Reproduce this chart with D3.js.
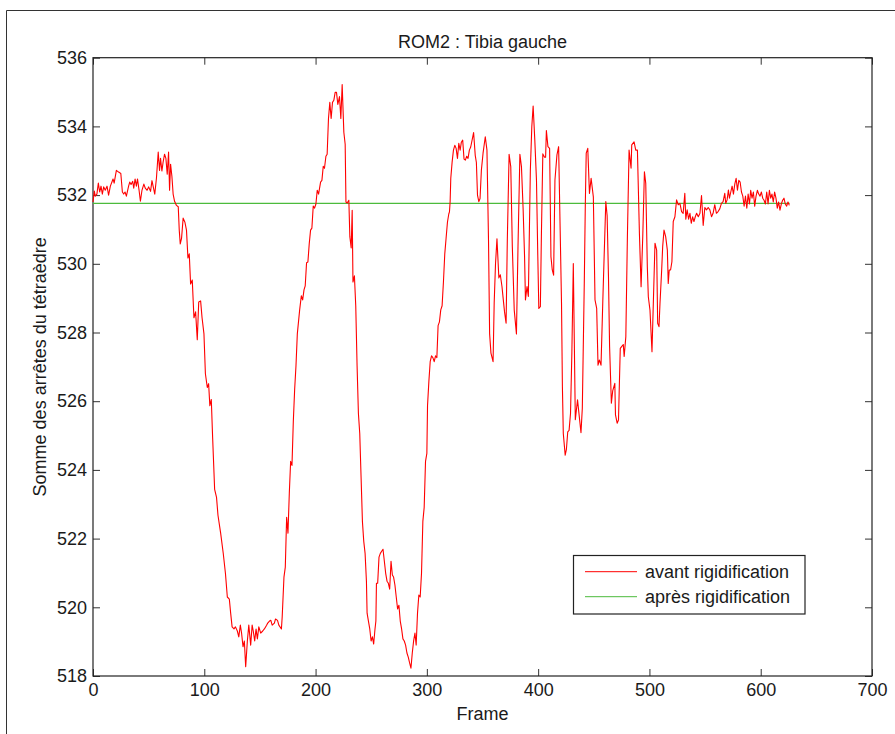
<!DOCTYPE html>
<html>
<head>
<meta charset="utf-8">
<script src="https://cdn.jsdelivr.net/npm/d3@7/dist/d3.min.js"></script>
<style>
  html, body { margin: 0; padding: 0; background: #fff; }
  svg { display: block; }
  text { font-family: "Liberation Sans", Arial, Helvetica, sans-serif; fill: #1a1a1a; }
</style>
</head>
<body>
<svg id="chart" width="895" height="734"></svg>
<script>
const titleText = "ROM2 : Tibia gauche";
const xLabel = "Frame";
const yLabel = "Somme des arrêtes du tétraèdre";
const seriesNames = ["avant rigidification", "après rigidification"];
const xTicks = [0, 100, 200, 300, 400, 500, 600, 700];
const yTicks = [518, 520, 522, 524, 526, 528, 530, 532, 534, 536];

const frames = [
0,1.2,2,3.5,4.8,6,7.2,8.4,9.6,11,12.6,14,15.6,17,18,19,21,23,25,26.4,27.6,28.8,30,32,33,34.2,35.7,36.6,37.8,39,40,41.4,42.6,44,45.7,47,48.6,50,51.7,53,54,55.5,57,58.6,59.8,60.7,61.9,63,64.3,65.5,66.7,67.9,68.8,69.7,70.9,72,73.3,75,76.6,77.5,78.4,79.6,81,82.6,84,85.3,86.5,87.7,89.2,90.7,92.2,93.7,95,96.7,98,99.7,101,102.7,103.9,105,106.3,107.5,109.3,111,112.3,114.7,117,119,120.7,122.5,123.7,125,126.7,128,129.7,131,132.4,133.5,134.8,136,137.2,138.7,140,141.7,143,144,145.3,146.5,147.7,149,150.7,152.5,154,156,157,158.6,159.8,161,163,164,165.8,167,169.3,
170,171.6,172.8,174,175.2,176.4,177.6,178.8,180,181.2,182.4,183.6,185.7,187.2,188.4,189.6,190.7,191.9,193.1,194.3,195.5,196.7,197.9,199.1,200.3,201.5,202.7,204.5,205.7,206.9,208,209.3,210.4,211.6,212.8,214,215.2,216.4,217.6,218.8,220,221.5,222.7,223.9,225.4,226.6,227.3,228.4,229.9,230.8,232,232.9,233.6,234.9,236.1,237.3,238.5,239.7,240.9,242.1,243.3,244.5,245.7,246.3,247.5,248.7,249.9,251.1,252.2,253.4,254.2,254.7,255.8,257,258.2,259.4,260.6,261.8,263,264.2,265.4,266.6,267.8,269,270.1,271.3,272.5,273.7,274.9,276.1,277.3,278.5,279.7,280.9,282.1,283.3,284.5,285.7,286.9,288.1,289.3,290.4,291.6,292.8,294,295.2,296.4,297.6,298.8,300,300.6,301.8,303,304.2,305.4,306.6,307.8,309,310.1,311.3,312.5,313.7,314.9,316.1,317.3,318.5,319.7,320.3,320.9,321.5,322.7,323.9,325.1,326.3,327.5,328.7,329.9,331,332.2,333.4,334.6,335.8,337,338.2,339.4,
342,343.5,344.5,345.5,346.7,347.8,349,350.5,352.5,354,355.4,356.4,357.6,359.5,360.5,361.7,363,364.7,366,367.5,368.7,369.8,371.2,372.3,373.9,375.4,376.8,378.5,380.5,381.9,383.6,385,386.5,387.8,388.6,390,391.2,393,394.3,395.5,397,398.5,399.7,400.6,402,402.9,404.2,405.8,406.7,407.4,408.8,410.3,411.5,412.7,413.9,415.1,416.9,418.4,419.8,421,421.8,422.6,424.3,425.4,426.6,427.8,429.1,430.3,431.6,433.4,435.4,438.5,439.7,441.5,442.4,443.2,444.6,446.1,447.6,449.6,451.1,452.6,453.8,455,456.5,458.1,459.3,460.8,462,463.2,464.2,465.8,467,468.9,469.5,471,472.2,472.8,473.8,475,476.5,477.3,478.8,480.2,481.7,483.5,484.1,486.2,487.7,489.2,491,492.5,494,495.5,496.7,498.1,499,500.5,502.3,503.5,505,506.5,507.4,508.6,509.5,511,511.9,513.1,514.6,516.1,516.9,517.8,519,520.2,521.4,522.9,524.4,525.9,527.4,528.9,530.3,531.8,532.7,533.9,535.2,536.4,537.6,538.8,540,541.2,542.4,543.9,545.4,546.8,548.3,549.8,551.3,552.8,554.3,555.8,557.2,558.7,560.2,561.7,563.2,564.7,566.2,567.7,568.6,569.8,571,
571.9,573.1,574.3,575.5,576.7,577.9,579.1,580.3,581.5,582.7,583.9,585.1,586.3,587.5,588.7,589.9,591,592.2,593.4,594.6,595.8,597,598.2,599.4,600.6,601.8,603,604.2,605.4,606.6,607.8,609,610.1,611.3,612.5,613.7,614.9,616.1,617.3,618.5,619.7,620.9,622.1,623.3,624.5,625.7
];

const avant = [
531.80,532.12,531.97,532.03,532.35,532.09,532.26,532.03,532.24,532.14,532.26,532.00,532.26,532.38,532.47,532.35,532.72,532.67,532.63,532.09,532.03,532.09,531.97,532.26,532.38,532.31,532.40,532.20,532.47,532.26,532.47,532.14,531.82,532.14,532.32,532.20,532.14,532.24,532.11,532.42,532.26,532.03,532.49,533.25,532.72,533.07,532.70,532.96,533.19,533.07,532.61,533.25,532.14,532.90,532.55,532.03,531.82,531.70,531.66,530.98,530.58,530.75,531.33,531.21,530.98,530.17,530.29,529.41,529.53,528.43,528.60,527.79,528.89,528.92,528.43,527.96,526.80,526.40,526.51,525.87,526.05,524.94,523.43,523.20,522.68,522.16,521.58,520.99,520.30,520.24,519.83,519.43,519.37,519.43,519.31,519.14,519.48,519.25,518.85,519.02,518.27,519.02,519.48,518.90,519.48,519.31,519.02,519.37,519.08,519.43,519.25,519.31,519.37,519.48,519.54,519.60,519.62,519.48,519.54,519.66,519.62,519.48,519.37,
519.72,520.88,521.17,522.62,522.16,523.32,524.25,524.13,525.41,526.34,527.03,527.96,528.66,529.07,528.95,529.24,529.36,530.03,530.05,530.58,530.98,531.04,531.68,531.62,531.74,532.14,532.03,532.38,532.43,532.84,532.78,533.13,533.19,534.23,534.70,534.23,534.70,534.76,534.99,534.99,534.64,534.87,534.23,535.22,533.83,533.48,531.80,531.77,531.85,530.79,530.46,531.56,529.47,529.65,528.78,527.03,525.64,525.06,523.78,522.50,521.92,521.57,520.76,519.83,519.60,519.37,519.02,519.14,518.93,519.37,519.60,520.70,520.70,521.46,521.57,521.63,521.69,521.34,520.99,520.76,520.70,520.53,521.34,520.94,520.88,520.65,520.30,519.95,520.06,519.60,519.37,519.08,519.02,518.90,518.67,518.55,518.38,518.23,518.67,519.02,519.25,518.90,519.83,520.36,520.30,520.99,522.50,522.91,524.25,524.48,525.87,526.57,527.15,527.32,527.27,527.15,527.32,527.27,528.20,528.31,528.66,528.78,529.47,530.29,530.75,531.21,531.45,531.51,531.80,532.49,532.96,533.31,533.45,533.36,533.07,533.51,533.31,533.54,533.60,533.05,533.02,533.13,533.07,533.31,533.40,
533.82,533.15,532.95,532.00,531.81,531.90,532.73,533.22,533.70,533.31,530.69,527.96,527.40,527.15,528.86,530.00,530.73,529.59,529.68,529.34,528.95,528.60,528.27,530.70,533.19,532.83,530.50,528.66,527.96,530.50,533.19,532.83,531.60,530.21,528.95,529.34,529.05,532.73,533.99,534.59,533.60,532.44,530.21,528.70,528.75,530.79,533.20,533.10,533.10,533.88,533.41,533.36,530.21,529.82,529.67,532.44,533.17,533.41,530.98,528.85,526.42,525.06,524.43,524.60,525.11,525.15,525.65,527.40,530.01,525.46,526.04,525.08,525.80,529.53,531.76,533.22,533.36,532.05,532.49,531.95,528.95,528.70,527.05,527.20,527.05,528.90,530.21,531.81,531.40,529.62,527.59,525.94,526.30,526.52,525.60,525.36,525.45,526.24,527.54,527.59,527.65,527.30,527.88,530.79,533.31,532.78,533.46,533.55,533.31,533.31,530.89,529.33,530.79,532.68,532.34,529.92,529.04,528.65,527.44,528.85,530.60,530.40,528.27,528.17,528.85,529.82,530.50,530.98,530.79,530.40,529.43,529.82,529.82,530.06,531.23,531.37,531.86,531.72,531.76,531.52,531.47,532.05,531.30,531.57,531.30,531.47,531.18,531.37,531.23,531.37,531.47,531.37,531.47,531.99,531.12,531.64,531.57,531.64,531.57,531.37,531.47,531.72,531.47,531.52,531.60,531.76,531.81,532.05,531.76,531.86,532.15,
531.91,532.09,532.26,532.03,532.32,532.49,532.14,532.43,532.38,532.09,531.97,531.68,531.97,531.62,532.03,531.74,532.14,531.91,532.09,531.68,531.97,532.14,532.03,531.97,532.09,531.91,531.85,531.74,532.09,531.74,532.14,531.91,532.03,531.80,532.09,531.91,531.62,531.80,531.56,531.74,531.85,531.91,531.74,531.68,531.80,531.70
];

const apresFrames = [0, 626];
const apresValues = [531.76, 531.76];

const colors = ["#ff0000", "#4cbb3c"];

const svg = d3.select("#chart");
const W = 895, H = 734;
const mLeft = 93, mRight = 872, mTop = 57.7, mBottom = 676;

// outer figure frame
svg.append("path")
  .attr("d", `M6.5,${H + 2} L6.5,10.5 L${W + 2},10.5`)
  .attr("fill", "none").attr("stroke", "#333").attr("stroke-width", 1);

const x = d3.scaleLinear().domain([0, 700]).range([mLeft, mRight]);
const y = d3.scaleLinear().domain([518, 536]).range([mBottom, mTop]);

const fontSize = 18;

// axes
const gB = svg.append("g").attr("transform", `translate(0,${mBottom})`)
  .call(d3.axisBottom(x).tickValues(xTicks).tickSizeInner(-7).tickSizeOuter(0).tickPadding(8).tickFormat(d3.format("d")));
const gT = svg.append("g").attr("transform", `translate(0,${mTop})`)
  .call(d3.axisTop(x).tickValues(xTicks).tickSizeInner(-7).tickSizeOuter(0).tickFormat(""));
const gL = svg.append("g").attr("transform", `translate(${mLeft},0)`)
  .call(d3.axisLeft(y).tickValues(yTicks).tickSizeInner(-7).tickSizeOuter(0).tickPadding(6).tickFormat(d3.format("d")));
const gR = svg.append("g").attr("transform", `translate(${mRight},0)`)
  .call(d3.axisRight(y).tickValues(yTicks).tickSizeInner(-7).tickSizeOuter(0).tickFormat(""));

[gB, gT, gL, gR].forEach(g => {
  g.select(".domain").remove();
  g.selectAll(".tick line").attr("stroke", "#333").attr("stroke-width", 1);
  g.selectAll(".tick text").attr("font-size", fontSize)
    .style("font-family", '"Liberation Sans", Arial, Helvetica, sans-serif').attr("fill", "#1a1a1a");
});
gB.selectAll(".tick text").attr("dy", "0.66em");

// plot box
svg.append("rect")
  .attr("x", mLeft).attr("y", mTop)
  .attr("width", mRight - mLeft).attr("height", mBottom - mTop)
  .attr("fill", "none").attr("stroke", "#222").attr("stroke-width", 1.2);

// series
const n = Math.min(frames.length, avant.length);
const avantData = d3.range(n).map(i => [frames[i], avant[i]]);
const apresData = apresFrames.map((f, i) => [f, apresValues[i]]);
const line = d3.line().x(d => x(d[0])).y(d => y(d[1]));

svg.append("path").datum(apresData)
  .attr("d", line).attr("fill", "none")
  .attr("stroke", colors[1]).attr("stroke-width", 1.1);

svg.append("path").datum(avantData)
  .attr("d", line).attr("fill", "none")
  .attr("stroke", colors[0]).attr("stroke-width", 1.1)
  .attr("stroke-linejoin", "round");

// title & labels
svg.append("text").attr("x", (mLeft + mRight) / 2).attr("y", 47.5)
  .attr("text-anchor", "middle").attr("font-size", fontSize).text(titleText);
svg.append("text").attr("x", (mLeft + mRight) / 2).attr("y", 720)
  .attr("text-anchor", "middle").attr("font-size", fontSize).text(xLabel);
svg.append("text")
  .attr("transform", `translate(46,${(mTop + mBottom) / 2}) rotate(-90)`)
  .attr("text-anchor", "middle").attr("font-size", fontSize).text(yLabel);

// legend
const lg = svg.append("g");
lg.append("rect").attr("x", 573.5).attr("y", 555.5).attr("width", 231.5).attr("height", 58.5)
  .attr("fill", "#fff").attr("stroke", "#222").attr("stroke-width", 1.2);
seriesNames.forEach((name, i) => {
  const yy = 571.7 + i * 25;
  lg.append("line").attr("x1", 585).attr("x2", 637).attr("y1", yy).attr("y2", yy)
    .attr("stroke", colors[i]).attr("stroke-width", 1);
  lg.append("text").attr("x", 645).attr("y", yy + 6.5)
    .attr("font-size", fontSize).text(name);
});
</script>
</body>
</html>
